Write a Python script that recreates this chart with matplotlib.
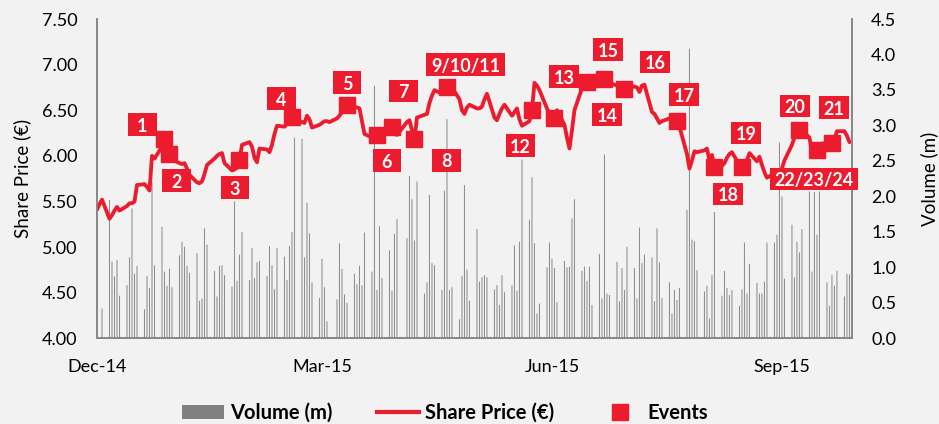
import matplotlib
matplotlib.use("Agg")
import matplotlib.pyplot as plt
import matplotlib.dates as mdates
from matplotlib.path import Path
from matplotlib.lines import Line2D
from matplotlib.patches import Patch
import pandas as pd

# trading days, exchange closed on Good Friday
dates = pd.bdate_range("2014-12-03", "2015-09-30", freq="C", holidays=["2015-04-03"])

# daily closing share price (EUR), one row per week
price = [
    5.41, 5.47, 5.52,
    5.31, 5.35, 5.40, 5.44, 5.40,
    5.45, 5.48, 5.48, 5.50, 5.68,
    5.69, 5.66, 5.62, 6.00, 5.97,
    6.10, 6.18, 6.08, 6.02, 5.96,
    5.92, 5.91, 5.92, 5.86, 5.79,
    5.71, 5.70, 5.72, 5.80, 5.90,
    5.97, 6.00, 6.02, 6.03, 5.92,
    5.84, 5.85, 5.87, 5.95, 6.12,
    6.15, 6.10, 5.98, 5.93, 6.08,
    6.07, 6.04, 6.12, 6.24, 6.33,
    6.32, 6.35, 6.40, 6.43, 6.42,
    6.37, 6.36, 6.44, 6.40, 6.31,
    6.34, 6.36, 6.38, 6.38, 6.37,
    6.41, 6.44, 6.48, 6.52, 6.56,
    6.54, 6.53, 6.52, 6.38, 6.24,
    6.20, 6.20, 6.23, 6.22, 6.27,
    6.33, 6.32, 6.24, 6.23,
    6.37, 6.39, 6.28, 6.18, 6.42,
    6.45, 6.46, 6.58, 6.66, 6.72,
    6.68, 6.72, 6.75, 6.76, 6.75,
    6.62, 6.50, 6.46, 6.53, 6.56,
    6.52, 6.52, 6.54, 6.62, 6.68,
    6.42, 6.39, 6.46, 6.52, 6.56,
    6.44, 6.48, 6.52, 6.40, 6.33,
    6.38, 6.50, 6.80, 6.77, 6.72,
    6.52, 6.46, 6.42, 6.41, 6.50,
    6.34, 6.20, 6.08, 6.28, 6.50,
    6.74, 6.78, 6.81, 6.82, 6.83,
    6.84, 6.84, 6.84, 6.84, 6.80,
    6.77, 6.74, 6.73, 6.73, 6.74,
    6.76, 6.75, 6.70, 6.77, 6.78,
    6.48, 6.46, 6.41, 6.36, 6.38,
    6.41, 6.40, 6.39, 6.38, 6.32,
    6.02, 5.86, 5.95, 6.05, 6.04,
    6.06, 6.08, 5.95, 6.01, 5.88,
    5.89, 5.92, 5.98, 6.02, 6.04,
    5.90, 5.88, 5.89, 5.95, 6.03,
    5.94, 5.99, 5.90, 5.82, 5.76,
    5.81, 5.80, 5.84, 5.86, 5.95,
    6.12, 6.20, 6.27, 6.28, 6.28,
    6.20, 6.05, 6.04, 6.06, 6.13,
    6.14, 6.14, 6.14, 6.18, 6.27,
    6.27, 6.22, 6.15,
]

# daily traded volume (millions of shares)
volume = [
    0.00, 0.00, 0.42,
    1.95, 1.08, 0.87, 1.10, 0.60,
    0.75, 1.14, 1.83, 0.91, 1.02,
    0.41, 0.88, 0.71, 2.20, 1.03,
    1.57, 0.94, 0.74, 0.98, 0.72,
    1.17, 1.36, 1.29, 1.02, 0.92,
    1.20, 0.53, 0.56, 1.55, 1.32,
    0.95, 0.59, 1.02, 1.03, 0.89,
    0.73, 1.93, 0.81, 1.18, 1.50,
    0.82, 1.27, 0.85, 1.07, 1.09,
    0.88, 1.30, 1.03, 0.69, 1.27,
    1.15, 0.82, 1.30, 1.50, 2.83,
    2.81, 1.14, 1.91, 1.48, 0.79,
    0.57, 1.12, 0.72, 0.24, 0.02,
    0.55, 1.34, 0.98, 0.62, 0.50,
    0.91, 0.76, 1.02, 0.75, 1.49,
    0.94, 3.56, 0.68, 1.58, 0.85,
    1.24, 0.67, 1.47, 1.68,
    1.41, 2.29, 1.96, 1.38, 2.21,
    0.63, 0.79, 2.02, 1.06, 1.03,
    0.68, 2.08, 3.09, 0.68, 0.72,
    0.27, 0.88, 2.16, 0.97, 0.53,
    1.54, 0.80, 0.86, 0.89, 0.86,
    0.69, 0.75, 0.47, 0.89, 0.65,
    0.75, 1.31, 0.67, 1.36, 2.52,
    1.67, 2.27, 1.34, 0.35, 0.49,
    1.00, 1.35, 1.12, 0.99, 0.51,
    1.09, 1.00, 1.01, 1.69, 1.96,
    0.95, 1.01, 0.81, 1.01, 0.47,
    1.19, 0.56, 2.59, 0.63, 0.61,
    1.08, 0.52, 0.99, 0.68, 1.29,
    0.99, 0.56, 1.56, 1.06, 1.18,
    1.14, 0.52, 1.55, 1.07, 0.57,
    0.79, 0.35, 0.68, 0.54, 0.71,
    1.81, 4.08, 1.39, 1.37, 0.96,
    0.66, 0.74, 0.28, 0.89, 1.78,
    0.60, 0.95, 0.71, 0.61, 0.68,
    0.46, 0.69, 1.35, 0.63, 1.05,
    0.78, 0.63, 0.63, 0.80, 1.35,
    1.35, 1.46, 2.76, 2.00, 0.84,
    1.60, 0.86, 1.36, 1.21, 1.54,
    2.07, 0.94, 2.06, 1.46, 2.07,
    0.79, 0.46, 0.89, 0.74, 0.95,
    0.59, 0.91, 0.90,
]

event_dates = ["2014-12-30", "2015-01-01", "2015-01-29", "2015-02-19", "2015-03-13",
               "2015-03-25", "2015-03-31", "2015-04-09", "2015-04-22", "2015-05-26",
               "2015-06-04", "2015-06-17", "2015-06-24", "2015-07-02", "2015-07-23",
               "2015-08-07", "2015-08-18", "2015-09-10", "2015-09-23", "2015-09-17"]
event_labels = ["1", "2", "3", "4", "5", "6", "7", "8", "9/10/11", "12",
                "13", "14", "15", "16", "17", "18", "19", "20", "21", "22/23/24"]
# where each event tag sits relative to its marker (pixels, right / up)
label_offsets = [(-22, 13), (7, -28), (-4.5, -29), (-10.5, 16.5), (0, 20.5),
                 (10, -27.5), (11.5, 34), (32, -22.5), (18.5, 21), (-11.5, -37),
                 (10, 40), (20, -34.5), (4, 28), (31, 25.5), (7.5, 25),
                 (14, -29), (4, 32), (-4.5, 22.5), (2, 34), (-3, -30.5)]

tick_dates = ["2014-12-03", "2015-03-03", "2015-06-03", "2015-09-03"]
tick_labels = ["Dec-14", "Mar-15", "Jun-15", "Sep-15"]
price_ticks = [4.0, 4.5, 5.0, 5.5, 6.0, 6.5, 7.0, 7.5]
volume_ticks = [0.0, 0.5, 1.0, 1.5, 2.0, 2.5, 3.0, 3.5, 4.0, 4.5]

assert len(dates) == len(price) == len(volume)

RED = "#EC1B2E"
GREY = "#868686"
BG = "#F2F2F2"

plt.rcParams["font.family"] = ["Lato", "DejaVu Sans"]


def tag_box(x0, y0, width, height, mutation_size):
    # red tag: fixed height, min width, digits centred vertically
    w = max(width + 0.5 * mutation_size, 1.6 * mutation_size)
    cx = x0 + width / 2
    bottom = y0 - 0.06 * mutation_size
    top = y0 + 1.19 * mutation_size
    return Path([(cx - w / 2, bottom), (cx + w / 2, bottom), (cx + w / 2, top),
                 (cx - w / 2, top), (cx - w / 2, bottom)], closed=True)


fig = plt.figure(figsize=(9.39, 4.24), dpi=100, facecolor=BG)
ax = fig.add_axes([97 / 939, 1 - 338.3 / 424, 754.7 / 939, 319.3 / 424])
axv = ax.twinx()
ax.set_zorder(axv.get_zorder() + 1)
ax.patch.set_visible(False)
axv.patch.set_facecolor(BG)

# thin volume bars; no snapping so every day stays visible
axv.bar(dates, volume, width=0.42, color="#8E8E8E", linewidth=0, snap=False)
ax.plot(dates, price, color=RED, lw=2.75, solid_joinstyle="round", solid_capstyle="round")

ev = pd.Series(price, index=dates).loc[pd.to_datetime(event_dates)]
ax.plot(ev.index, ev.values, "s", color=RED, ms=11.5, ls="none")
for d, p, txt, off in zip(ev.index, ev.values, event_labels, label_offsets):
    ax.annotate(txt, (d, p), xytext=off, textcoords="offset pixels",
                ha="center", va="center", color="white", fontsize=13, fontweight="bold",
                bbox=dict(boxstyle=tag_box, facecolor=RED, edgecolor="none"), zorder=5)

start = mdates.date2num(pd.Timestamp("2014-12-03"))
ax.set_xlim(start, start + 301.9)
ax.set_xticks(pd.to_datetime(tick_dates))
ax.set_xticklabels(tick_labels)

ax.set_ylim(4, 7.5)
ax.set_yticks(price_ticks)
ax.set_yticklabels([f"{v:.2f}" for v in price_ticks])
axv.set_ylim(0, 4.5)
axv.set_yticks(volume_ticks)
axv.set_yticklabels([f"{v:.1f}" for v in volume_ticks])

ax.tick_params(axis="y", length=0, pad=14, labelsize=13)
ax.tick_params(axis="x", length=0, pad=15, labelsize=13)
axv.tick_params(axis="y", length=0, pad=14, labelsize=13)

for a in (ax, axv):
    a.spines["top"].set_visible(False)
    for s in ("left", "right", "bottom"):
        a.spines[s].set_color(GREY)
        a.spines[s].set_linewidth(1.2)

ax.set_ylabel("Share Price (€)", fontsize=13.5)
ax.yaxis.set_label_coords(-0.0875, 0.5)
axv.set_ylabel("Volume (m)", fontsize=13.5)
axv.yaxis.set_label_coords(1.0905, 0.5)

handles = [Patch(facecolor="#808080", edgecolor="none"),
           Line2D([], [], color=RED, lw=3),
           Line2D([], [], marker="s", color=RED, ls="none", ms=11)]
fig.legend(handles, ["Volume (m)", "Share Price (€)", "Events"], loc="center",
           bbox_to_anchor=(445 / 939, 1 - 413 / 424), ncol=3, frameon=False,
           prop={"weight": "bold", "size": 14.5}, handlelength=2.1, handletextpad=0.3,
           columnspacing=2.2)

fig.savefig("out.png", dpi=100, facecolor=BG)
